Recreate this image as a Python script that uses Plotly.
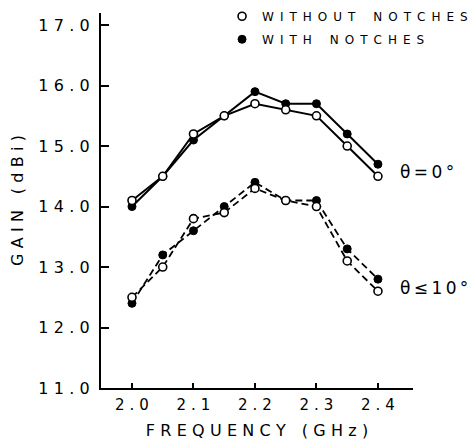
import plotly.graph_objects as go

# ---- data ----
freq = [2.0, 2.05, 2.1, 2.15, 2.2, 2.25, 2.3, 2.35, 2.4]
gain0_without = [14.1, 14.5, 15.2, 15.5, 15.7, 15.6, 15.5, 15.0, 14.5]
gain0_with = [14.0, 14.5, 15.1, 15.5, 15.9, 15.7, 15.7, 15.2, 14.7]
gain10_without = [12.5, 13.0, 13.8, 13.9, 14.3, 14.1, 14.0, 13.1, 12.6]
gain10_with = [12.4, 13.2, 13.6, 14.0, 14.4, 14.1, 14.1, 13.3, 12.8]

x_ticks = [2.0, 2.1, 2.2, 2.3, 2.4]
x_tick_labels = ["2.0", "2.1", "2.2", "2.3", "2.4"]
y_ticks = [11, 12, 13, 14, 15, 16, 17]
y_tick_labels = ["11.0", "12.0", "13.0", "14.0", "15.0", "16.0", "17.0"]

legend_without = "WITHOUT NOTCHES"
legend_with = "WITH NOTCHES"
x_title = "FREQUENCY (GHz)"
y_title = "GAIN (dBi)"
label_0 = "θ=0°"
label_10 = "θ≤10°"

FONT = "DejaVu Sans"


def spaced(s, sep="\u2004", word="\u2003"):
    out = []
    for i, ch in enumerate(s):
        if ch == " ":
            out.append(word)
            continue
        out.append(ch)
        if i < len(s) - 1 and s[i + 1] != " ":
            out.append(sep)
    return "".join(out)


fig = go.Figure()

open_marker = dict(symbol="circle", size=8, color="white", line=dict(color="black", width=1.6))
filled_marker = dict(symbol="circle", size=8, color="black", line=dict(color="black", width=1))

fig.add_trace(go.Scatter(x=freq, y=gain10_with, mode="lines+markers",
                         line=dict(color="black", width=1.8, dash="7px,4px"),
                         marker=filled_marker, showlegend=False))
fig.add_trace(go.Scatter(x=freq, y=gain10_without, mode="lines+markers",
                         line=dict(color="black", width=1.8, dash="7px,4px"),
                         marker=open_marker, showlegend=False))
fig.add_trace(go.Scatter(x=freq, y=gain0_with, mode="lines+markers",
                         line=dict(color="black", width=2),
                         marker=filled_marker, showlegend=False))
fig.add_trace(go.Scatter(x=freq, y=gain0_without, mode="lines+markers",
                         line=dict(color="black", width=2),
                         marker=open_marker, showlegend=False))

# legend entries
fig.add_trace(go.Scatter(x=[None], y=[None], mode="markers", marker=open_marker,
                         name=spaced(legend_without, "\u2002", "\u2003\u2002"),
                         legendgroup="a"))
fig.add_trace(go.Scatter(x=[None], y=[None], mode="markers", marker=filled_marker,
                         name=spaced(legend_with, "\u2002", "\u2003\u2002"),
                         legendgroup="b"))

fig.add_annotation(x=2.4, y=14.57, xref="x", yref="y", xanchor="left", yanchor="middle",
                   xshift=20, text=spaced(label_0, "\u2009"), showarrow=False,
                   font=dict(family=FONT, size=17, color="black"))
fig.add_annotation(x=2.4, y=12.65, xref="x", yref="y", xanchor="left", yanchor="middle",
                   xshift=20, text=spaced(label_10, "\u2009"), showarrow=False,
                   font=dict(family=FONT, size=17, color="black"))

# the page body adds an 8px offset, so the figure is 8px smaller than the window
fig.update_layout(
    width=468, height=434,
    margin=dict(l=93, r=63, t=5, b=54, autoexpand=False),
    paper_bgcolor="white", plot_bgcolor="white",
    font=dict(family=FONT, color="black"),
    legend=dict(x=0.388, y=1.03, xanchor="left", yanchor="top",
                font=dict(family=FONT, size=12, color="black"),
                bgcolor="rgba(0,0,0,0)", tracegroupgap=4,
                itemwidth=30),
)

fig.update_xaxes(
    range=[1.9496, 2.457], showgrid=False, zeroline=False,
    showline=True, linecolor="black", linewidth=2,
    ticks="inside", ticklen=5, tickwidth=1.5, tickcolor="black",
    tickvals=x_ticks, ticktext=[spaced(t) for t in x_tick_labels],
    tickfont=dict(family=FONT, size=15, color="black"),
    ticklabelstandoff=2,
    title=dict(text=spaced(x_title, "\u2004", "\u2003"), font=dict(family=FONT, size=16, color="black"),
               standoff=12),
)
fig.update_yaxes(
    range=[11, 17.2], showgrid=False, zeroline=False,
    showline=True, linecolor="black", linewidth=2,
    ticks="inside", ticklen=8, tickwidth=2, tickcolor="black",
    tickvals=y_ticks, ticktext=[spaced(t) for t in y_tick_labels],
    tickfont=dict(family=FONT, size=16, color="black"),
    ticklabelstandoff=6,
    title=dict(text=spaced(y_title, "\u2004", "\u2003"), font=dict(family=FONT, size=16, color="black"),
               standoff=11),
)

fig.write_html("out.html")
